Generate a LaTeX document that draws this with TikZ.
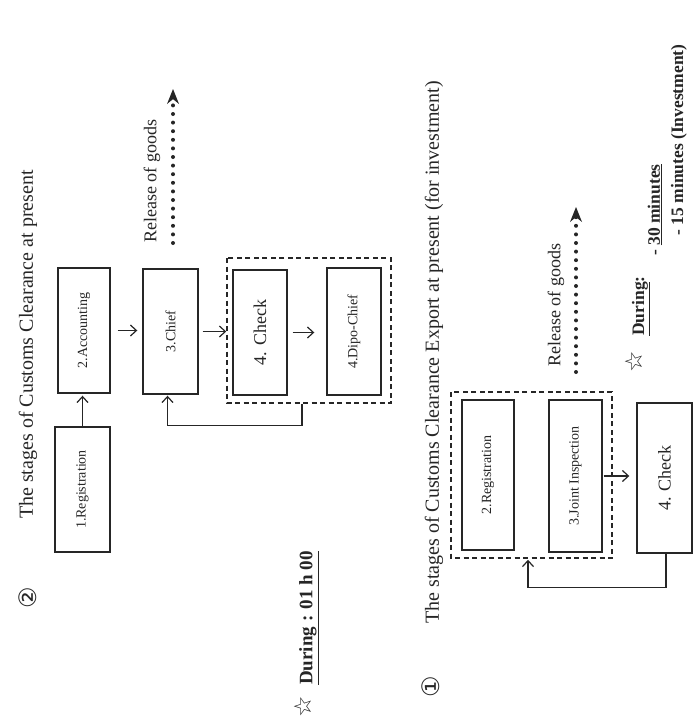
\documentclass[tikz,border=0pt]{standalone}
\usepackage{fontspec}
\setmainfont{Liberation Serif}
\newfontfamily\symfont{DejaVu Sans}
\usetikzlibrary{arrows.meta}
\definecolor{ink}{HTML}{262626}
\begin{document}
\begin{tikzpicture}[x=1pt,y=-1pt,
  stagebox/.style={draw=ink, line width=1.4pt, rotate=90, inner sep=0pt, text=ink,
    font=\fontsize{14}{16}\selectfont},
  bigbox/.style={stagebox, font=\fontsize{18}{20}\selectfont},
  grp/.style={draw=ink, line width=1.5pt, rotate=90, inner sep=0pt, dash pattern=on 5pt off 3.5pt},
  flow/.style={draw=ink, line width=1.2pt, -{Straight Barb[length=6pt,width=11pt,line width=1.2pt]}},
  release/.style={draw=ink, line width=4pt, line cap=round, dash pattern=on 0pt off 8.6pt,
    -{Stealth[length=15pt,width=12pt,line width=0pt]}},
  lbl/.style={rotate=90, text=ink, inner sep=0pt},
  title/.style={lbl, font=\fontsize{20}{24}\selectfont},
  circnum/.style={lbl, font=\symfont\fontsize{24}{26}\selectfont},
  starmark/.style={lbl, font=\symfont\fontsize{24}{26}\selectfont},
  durtext/.style={lbl, font=\bfseries\fontsize{19}{22}\selectfont},
  durtextsm/.style={lbl, font=\bfseries\fontsize{17.5}{20}\selectfont}
]
\useasboundingbox[fill=white] (0,0) rectangle (699,720);

% ---------- part 2 ----------
\node[circnum] (num2) at (28,598) {②};
\node[title] (t2) at (28,344.5) {The stages of Customs Clearance at present};

\node[stagebox, minimum width=125pt, minimum height=55pt] (reg1) at (82.5,489.5) {1.Registration};
\node[stagebox, minimum width=125pt, minimum height=52pt] (acc) at (84,330.5) {2.Accounting};
\node[stagebox, minimum width=125pt, minimum height=55pt] (chief) at (170.5,331.5) {3.Chief};
\node[grp, minimum width=145pt, minimum height=164pt] (grp1) at (309,330.5) {};
\node[bigbox, minimum width=125pt, minimum height=54pt] (chk1) at (260,332.5) {4. Check};
\node[stagebox, minimum width=127pt, minimum height=54pt] (dipo) at (354,331.5) {4.Dipo-Chief};

\draw[flow, shorten >=2pt] (reg1.east) -- (reg1.east |- acc.west);
\draw[flow, shorten <=7pt, shorten >=5pt] (acc.south) -- (acc.south -| chief.north);
\draw[flow, shorten <=4pt] (chief.south) -- (chief.south -| grp1.north);
\draw[flow, shorten <=5pt, shorten >=12pt] (chk1.south) -- (chk1.south -| dipo.north);
\draw[flow, shorten >=1pt] ([xshift=-7pt]grp1.west) -- ++(0,22) -| ([xshift=-3pt]chief.west);

\coordinate (r1s) at (173,243);
\coordinate (r1e) at (173,89);
\draw[release] (r1s) -- (r1e);
\node[lbl, font=\fontsize{18}{21}\selectfont] (rel1) at (152,181) {Release of goods};

\node[starmark] (star1) at (303,707) {☆};
\node[durtext] (dur1) at (309,618) {\underline{During : 01 h 00}};

% ---------- part 1 ----------
\node[circnum] (num1) at (431,687) {①};
\node[title] (t1) at (434,352.5) {The stages of Customs Clearance Export at present (for investment)};

\node[grp, minimum width=166pt, minimum height=161pt] (grp2) at (531.5,475) {};
\node[stagebox, minimum width=150pt, minimum height=52pt] (reg2) at (488,475) {2.Registration};
\node[stagebox, minimum width=152pt, minimum height=53pt] (joint) at (575.5,476) {3.Joint Inspection};
\node[bigbox, minimum width=150pt, minimum height=55pt] (chk2) at (664.5,478) {4. Check};

\draw[flow, shorten <=1pt, shorten >=7pt] (joint.south) -- (joint.south -| chk2.north);
\draw[flow, shorten >=1pt] ([xshift=1.5pt]chk2.west) -- ++(0,34) -| ([xshift=-3.5pt]grp2.west);

\coordinate (r2s) at (576,372);
\coordinate (r2e) at (576,207);
\draw[release] (r2s) -- (r2e);
\node[lbl, font=\fontsize{18}{21}\selectfont] (rel2) at (556,305) {Release of goods};

\node[starmark] (star2) at (634,362) {☆};
\node[durtextsm] (dur2a) at (641,306) {\underline{During}:};
\node[durtextsm] (dur2b) at (655,210) {- \underline{30 minutes}};
\node[durtextsm] (dur3) at (679,140) {- 15 minutes (Investment)};
\end{tikzpicture}
\end{document}
